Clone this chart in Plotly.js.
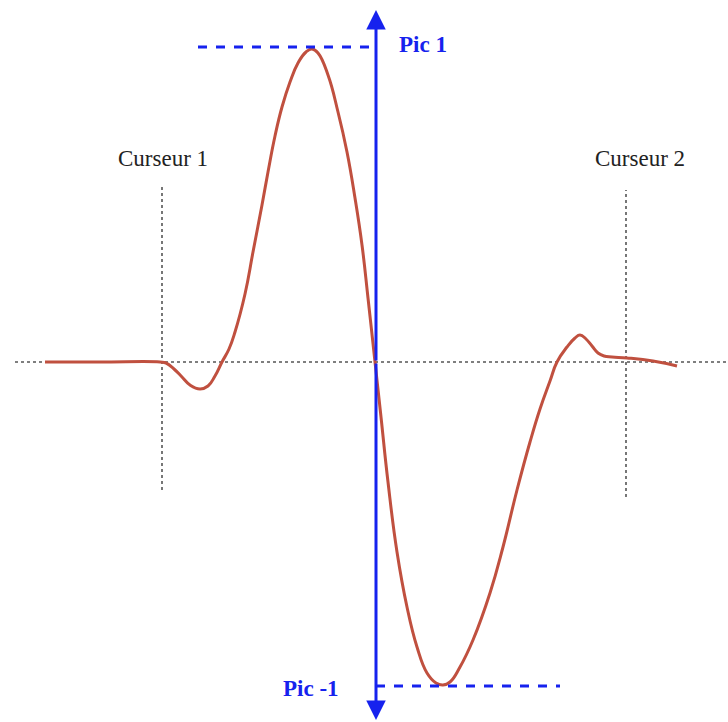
<!DOCTYPE html>
<html>
<head>
<meta charset="utf-8">
<script src="https://cdn.plot.ly/plotly-3.0.1.min.js"></script>
<style>
  html, body { margin: 0; padding: 0; background: #fff; }
  #graphique { width: 728px; height: 722px; }
</style>
</head>
<body>
<div id="graphique"></div>
<script>
var ondeX = [45, 100, 160, 166, 174, 182, 190, 200, 208, 215, 222,
             229, 235, 245, 253, 262, 268, 275, 282, 290, 298, 306, 312,
             318, 328, 338, 347, 355, 362, 368, 375,
             381, 388, 397, 407, 417, 427, 436, 443,
             450, 460, 473, 490, 503, 517, 530, 540, 550, 557,
             567, 575, 580, 586, 592, 598, 604, 612, 627, 653, 677];
var ondeY = [0, 0, 0, -1, -7, -15, -23, -27, -24, -14, 0,
             13, 30, 68, 110, 157, 190, 226, 255, 280, 299, 310, 313,
             309, 287, 250, 210, 164, 117, 64, 0,
             -55, -120, -190, -245, -285, -311, -321, -323,
             -320, -305, -278, -231, -185, -128, -80, -47, -19, 0,
             15, 24, 27, 23, 16, 9, 6, 5, 4, 1, -4];

var curseursX = [162, 626];
var curseursHaut = [176, 172];
var curseursBas = [-128, -135];
var curseursTexte = ["Curseur 1", "Curseur 2"];
var curseursTexteX = [163, 640];

var picX = 376;
var pic1 = 314;
var picMoins1 = -324;
var picTexte = ["Pic 1", "Pic -1"];

var bleu = "rgb(22,34,238)";
var gris = "#555";

var traces = [{
    x: ondeX,
    y: ondeY,
    mode: 'lines',
    line: {shape: 'spline', smoothing: 1.3, color: '#c0503f', width: 3},
    type: 'scatter',
    hoverinfo: 'skip'
}];

var formes = [
    // ligne de base pointillée
    {type: 'line', x0: 15, x1: 728, y0: 0, y1: 0, line: {color: gris, width: 1.6, dash: 'dot'}, layer: 'below'},
    // traits pointillés des pics
    {type: 'line', x0: 198, x1: picX, y0: pic1 + 1, y1: pic1 + 1, line: {color: bleu, width: 3, dash: 'dash'}},
    {type: 'line', x0: picX, x1: 560, y0: picMoins1, y1: picMoins1, line: {color: bleu, width: 3, dash: 'dash'}}
];

for (var i = 0; i < curseursX.length; i++) {
    formes.push({type: 'line', x0: curseursX[i], x1: curseursX[i], y0: curseursBas[i], y1: curseursHaut[i],
                 line: {color: gris, width: 1.6, dash: 'dot'}, layer: 'below'});
}

var annotations = [
    // flèche verticale double
    {x: picX, y: 352, ax: picX, ay: 0, xref: 'x', yref: 'y', axref: 'x', ayref: 'y', text: '',
     showarrow: true, arrowhead: 2, arrowsize: 1.3, arrowwidth: 3, arrowcolor: bleu},
    {x: picX, y: -358, ax: picX, ay: 0, xref: 'x', yref: 'y', axref: 'x', ayref: 'y', text: '',
     showarrow: true, arrowhead: 2, arrowsize: 1.3, arrowwidth: 3, arrowcolor: bleu},
    {x: 423, y: pic1 + 4, xref: 'x', yref: 'y', text: '<b>' + picTexte[0] + '</b>', showarrow: false,
     font: {family: 'Liberation Serif', size: 23, color: bleu}},
    {x: 311, y: picMoins1 - 2, xref: 'x', yref: 'y', text: '<b>' + picTexte[1] + '</b>', showarrow: false,
     font: {family: 'Liberation Serif', size: 23, color: bleu}}
];

for (var j = 0; j < curseursTexte.length; j++) {
    annotations.push({x: curseursTexteX[j], y: 204, xref: 'x', yref: 'y', text: curseursTexte[j], showarrow: false,
                      font: {family: 'Liberation Serif', size: 23, color: '#222'}});
}

var estilo = {
    width: 728,
    height: 722,
    margin: {l: 0, r: 0, t: 0, b: 0},
    paper_bgcolor: '#fff',
    plot_bgcolor: '#fff',
    showlegend: false,
    xaxis: {range: [0, 728], visible: false, fixedrange: true},
    yaxis: {range: [-360, 362], visible: false, fixedrange: true},
    shapes: formes,
    annotations: annotations
};

Plotly.newPlot('graphique', traces, estilo, {displayModeBar: false, staticPlot: true});
</script>
</body>
</html>
